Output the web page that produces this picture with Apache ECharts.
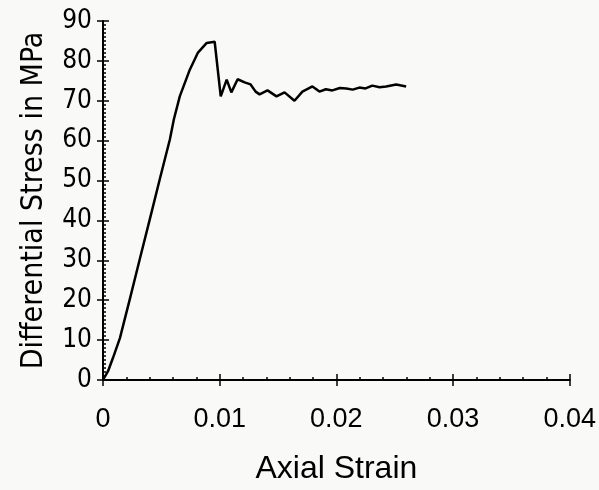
<!DOCTYPE html>
<html>
<head>
<meta charset="utf-8">
<script src="https://cdn.jsdelivr.net/npm/echarts@6/dist/echarts.min.js"></script>
<style>
  html, body { margin: 0; padding: 0; background: #f9f9f7; }
  #chart { width: 599px; height: 490px; }
</style>
</head>
<body>
<div id="chart"></div>
<script>
// axial strain (x) and differential stress in MPa (y)
var strain = [0, 0.00043, 0.00085, 0.00145, 0.00231, 0.00316, 0.00402, 0.00487, 0.00573, 0.00607,
  0.00658, 0.00744, 0.00812, 0.00889, 0.00957, 0.01009, 0.0106, 0.0110, 0.01154, 0.01214,
  0.01265, 0.01308, 0.01342, 0.0141, 0.01487, 0.01556, 0.01641, 0.01709, 0.01795, 0.01855,
  0.0191, 0.01966, 0.0203, 0.02085, 0.0214, 0.02197, 0.0225, 0.02308, 0.0237, 0.02427,
  0.02513, 0.02598];
var stress = [0, 2.2, 5.5, 10.5, 20.4, 30.4, 40.4, 50.4, 60.3, 65.3,
  71.1, 77.8, 82.0, 84.5, 84.8, 71.1, 75.3, 72.1, 75.4, 74.6,
  74.1, 72.3, 71.6, 72.6, 71.1, 72.1, 70.0, 72.3, 73.6, 72.3,
  72.9, 72.6, 73.2, 73.1, 72.8, 73.3, 73.1, 73.8, 73.4, 73.6,
  74.1, 73.6];
var xTicks = ['0', '0.01', '0.02', '0.03', '0.04'];

var points = strain.map(function (s, i) { return [s, stress[i]]; });

var chart = echarts.init(document.getElementById('chart'));
var narrow = "'Liberation Sans Narrow', 'DejaVu Sans Condensed', sans-serif";
var axisLine = { show: true, onZero: false, lineStyle: { color: '#000', width: 2 } };

chart.setOption({
  backgroundColor: '#f9f9f7',
  animation: false,
  grid: { left: 103, right: 28, top: 21, bottom: 108 },
  xAxis: [{
    type: 'value', min: 0, max: 0.04, interval: 0.01,
    position: 'bottom',
    axisLine: axisLine,
    axisTick: { show: true, inside: false, length: 6, lineStyle: { color: '#000', width: 1.5 } },
    splitLine: { show: false },
    axisLabel: {
      margin: 26, color: '#000', fontSize: 27, fontFamily: 'Liberation Sans, Arial, sans-serif',
      formatter: function (v) { return xTicks[Math.round(v / 0.01)]; }
    },
    name: 'Axial Strain', nameLocation: 'middle', nameGap: 73,
    nameTextStyle: { color: '#000', fontSize: 32, fontFamily: 'Liberation Sans, Arial, sans-serif' }
  }, {
    type: 'value', min: 0, max: 0.04, interval: 0.01,
    position: 'bottom', offset: 0,
    axisLine: { show: false },
    axisTick: { show: true, inside: true, length: 6, lineStyle: { color: '#000', width: 1.5 } },
    minorTick: { show: true, splitNumber: 5, length: 3, lineStyle: { color: '#000', width: 1.5 } },
    axisLabel: { show: false },
    splitLine: { show: false }
  }],
  yAxis: [{
    type: 'value', min: 0, max: 90, interval: 10,
    position: 'left',
    axisLine: axisLine,
    axisTick: { show: true, inside: false, length: 6, lineStyle: { color: '#000', width: 1.5 } },
    splitLine: { show: false },
    axisLabel: { margin: 11, color: '#000', fontSize: 26, fontFamily: narrow },
    name: 'Differential Stress in MPa', nameLocation: 'middle', nameGap: 54,
    nameTextStyle: { color: '#000', fontSize: 30, fontFamily: narrow }
  }, {
    type: 'value', min: 0, max: 90, interval: 10,
    position: 'left', offset: 0,
    axisLine: { show: false },
    axisTick: { show: true, inside: true, length: 6, lineStyle: { color: '#000', width: 1.5 } },
    minorTick: { show: true, splitNumber: 10, length: 3, lineStyle: { color: '#000', width: 1.5 } },
    axisLabel: { show: false },
    splitLine: { show: false }
  }],
  series: [{
    type: 'line',
    data: points,
    showSymbol: false,
    lineStyle: { color: '#000', width: 2.5 }
  }]
});
</script>
</body>
</html>
